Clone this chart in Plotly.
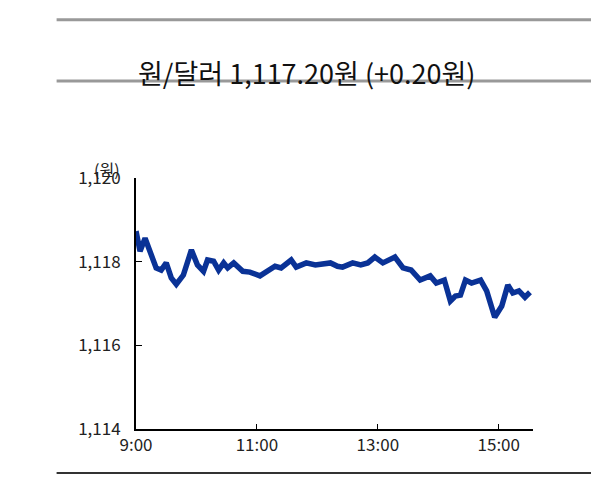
import plotly.graph_objects as go

minutes = [0,4,9,14,20,25,30,35,40,47,55,61,67,71,77,82,87,91,97,106,113,123,131,138,144,154,159,169,178,193,200,205,215,223,230,237,245,257,265,273,282,292,298,306,312,317,322,327,333,342,348,356,363,369,374,380,386,391]
rate = [1118.73,1118.25,1118.56,1118.25,1117.85,1117.80,1117.97,1117.61,1117.46,1117.68,1118.28,1117.92,1117.77,1118.04,1118.01,1117.80,1117.97,1117.85,1117.97,1117.77,1117.75,1117.66,1117.77,1117.89,1117.85,1118.04,1117.87,1117.97,1117.92,1117.97,1117.89,1117.87,1117.97,1117.92,1117.97,1118.11,1117.97,1118.11,1117.85,1117.80,1117.56,1117.66,1117.49,1117.56,1117.06,1117.18,1117.20,1117.56,1117.49,1117.56,1117.30,1116.67,1116.94,1117.44,1117.25,1117.30,1117.15,1117.27,1117.20]
x_tickvals = [0,120,240,360]
x_ticktext = ["9:00","11:00","13:00","15:00"]
y_tickvals = [1114,1116,1118,1120]
y_ticktext = ["1,114","1,116","1,118","1,120"]
rate = rate[:len(minutes)]

fig = go.Figure(go.Scatter(x=minutes, y=rate, mode="lines",
    line=dict(color="#0a3296", width=5.5), hoverinfo="skip"))
font = "Noto Sans CJK KR"
fig.update_layout(
    width=599, height=489, paper_bgcolor="white", plot_bgcolor="white",
    margin=dict(l=128, r=74, t=170, b=68, autoexpand=False), showlegend=False,
    font=dict(family=font, size=17, color="#222"),
    xaxis=dict(range=[0,394], tickvals=x_tickvals, ticktext=x_ticktext, showgrid=False,
               showline=True, linecolor="black", linewidth=2, ticks="inside", ticklen=5,
               tickcolor="black", zeroline=False, automargin=False),
    yaxis=dict(range=[1114,1120], tickvals=y_tickvals, ticktext=y_ticktext, showgrid=False,
               showline=True, linecolor="black", linewidth=2, ticks="inside", ticklen=6,
               tickcolor="black", zeroline=False, automargin=False, ticklabelstandoff=10),
    shapes=[
        dict(type="line", xref="paper", yref="paper", x0=-0.2, x1=1.15, y0=1.63, y1=1.63, line=dict(color="#999", width=3)),
        dict(type="line", xref="paper", yref="paper", x0=-0.2, x1=1.15, y0=1.386, y1=1.386, line=dict(color="#999", width=3)),
        dict(type="line", xref="paper", yref="paper", x0=-0.2, x1=1.15, y0=-0.175, y1=-0.175, line=dict(color="#333", width=2)),
    ],
    annotations=[
        dict(text="원/달러 1,117.20원 (+0.20원)", xref="paper", yref="paper", x=0.43, y=1.505,
             showarrow=False, font=dict(size=27, color="#111", family=font)),
        dict(text="(원)", xref="paper", yref="paper", x=-0.11, y=1.09, showarrow=False,
             font=dict(size=16, color="#222")),
    ],
)
fig.write_html("out.html")
